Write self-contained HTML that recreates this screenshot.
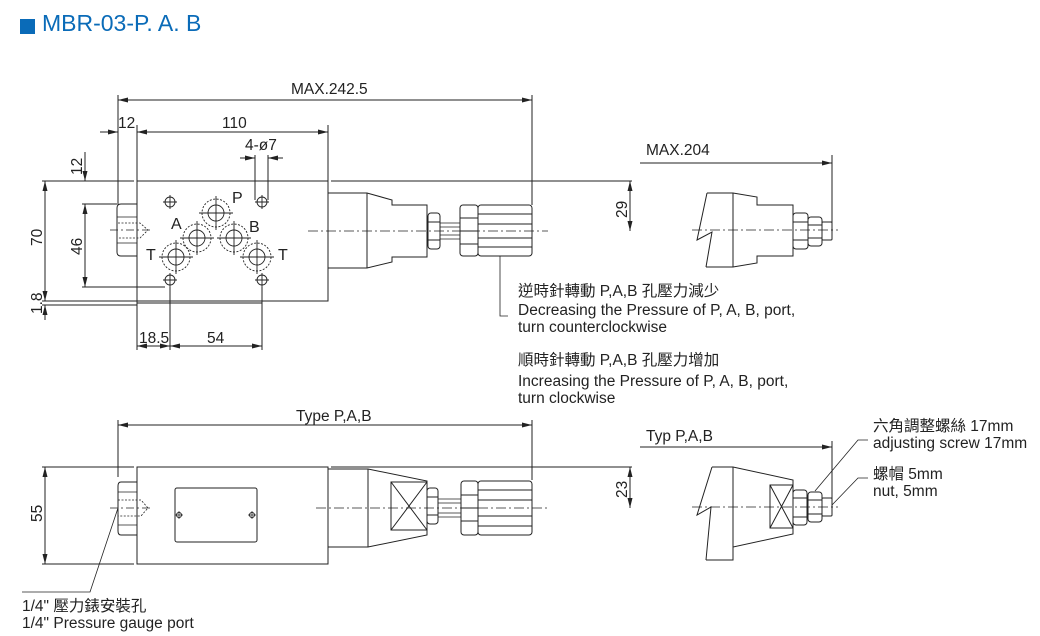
<!DOCTYPE html>
<html><head><meta charset="utf-8"><style>
html,body{margin:0;padding:0;background:#fff;}
svg{display:block;}
text{font-family:"Liberation Sans","Noto Sans CJK TC",sans-serif;fill:#222;}
</style></head><body>
<svg width="1040" height="636" viewBox="0 0 1040 636" xmlns="http://www.w3.org/2000/svg">
<defs>
<marker id="a" viewBox="0 0 10 6" refX="10" refY="3" markerWidth="10" markerHeight="6" orient="auto-start-reverse" markerUnits="userSpaceOnUse"><path d="M0,0.5 L10,3 L0,5.5z" fill="#222"/></marker>
</defs>
<rect x="20" y="19" width="15" height="15" fill="#0a6bb8"/>
<text x="42" y="31" font-size="23" style="fill:#0a6bb8">MBR-03-P. A. B</text>

<g stroke="#222" stroke-width="1" fill="none">
<rect x="137" y="181" width="191" height="120"/>
<line x1="137" y1="305" x2="42" y2="305"/>
<line x1="137" y1="301" x2="42" y2="301"/>
<path d="M137,303 H262"/>
<path d="M137,204 H121 Q117,204 117,208 V252 Q117,256 121,256 H137"/>
<path d="M117,217 H137 M117,243 H137" stroke-width="0.7"/>
<path d="M118,223 H140 L148,230 L140,238 H118" stroke-dasharray="2,1.5" stroke-width="0.8"/>
<path d="M328,193 H367 L392,200 V205 H427 V257 H392 V262 L367,268 H328"/>
<line x1="367" y1="193" x2="367" y2="268"/>
<rect x="428" y="213" width="12" height="36" rx="3"/>
<path d="M428,222 H440 M428,240 H440"/>
<path d="M440,223 H460 M440,227 H460 M440,235 H460 M440,239 H460" stroke-width="0.8"/>
<rect x="460" y="205" width="18" height="51" rx="3"/>
<path d="M460,218 H478 M460,231 H478 M460,244 H478"/>
<rect x="478" y="205" width="54" height="51" rx="3"/>
<path d="M478,214 H532 M478,224 H532 M478,238 H532 M478,247 H532"/>
<line x1="308" y1="231" x2="548" y2="231" stroke-dasharray="10,3,2,3" stroke-width="0.8"/>
<line x1="110" y1="230" x2="150" y2="230" stroke-dasharray="8,3,2,3" stroke-width="0.7"/>
<g stroke-width="0.9">
<circle cx="216" cy="213" r="14" stroke-dasharray="2,1.5"/><circle cx="216" cy="213" r="8"/>
<circle cx="197" cy="238" r="14" stroke-dasharray="2,1.5"/><circle cx="197" cy="238" r="8"/>
<circle cx="234" cy="238" r="14" stroke-dasharray="2,1.5"/><circle cx="234" cy="238" r="8"/>
<circle cx="176" cy="257" r="14" stroke-dasharray="2,1.5"/><circle cx="176" cy="257" r="8"/>
<circle cx="257" cy="257" r="14" stroke-dasharray="2,1.5"/><circle cx="257" cy="257" r="8"/>
<path d="M216,196 V230 M199,213 H233 M197,221 V255 M180,238 H214 M234,221 V255 M217,238 H251 M176,240 V274 M159,257 H193 M257,240 V274 M240,257 H274"/>
<circle cx="170" cy="202" r="5"/><circle cx="262" cy="202" r="5"/><circle cx="170" cy="280" r="5"/><circle cx="262" cy="280" r="5"/>
<path d="M163,202 H177 M170,195 V209 M255,202 H269 M262,195 V209 M163,280 H177 M170,273 V287 M255,280 H269 M262,273 V287"/>
</g>
<line x1="118" y1="95" x2="118" y2="205"/>
<line x1="532" y1="95" x2="532" y2="205"/>
<line x1="118" y1="100" x2="532" y2="100" marker-start="url(#a)" marker-end="url(#a)"/>
<line x1="137" y1="125" x2="137" y2="181"/>
<line x1="328" y1="125" x2="328" y2="181"/>
<line x1="137" y1="132" x2="328" y2="132" marker-start="url(#a)" marker-end="url(#a)"/>
<line x1="100" y1="132" x2="118" y2="132" marker-end="url(#a)"/>
<line x1="255" y1="155" x2="255" y2="200"/><line x1="268" y1="155" x2="268" y2="200"/>
<line x1="240" y1="158" x2="255" y2="158" marker-end="url(#a)"/>
<line x1="283" y1="158" x2="268" y2="158" marker-end="url(#a)"/>
<path d="M42,181 H134 M140,181 H325 M331,181 H632"/>
<path d="M82,204 H117 M82,287 H165"/>
<line x1="85" y1="152" x2="85" y2="181" marker-end="url(#a)"/>
<line x1="85" y1="204" x2="85" y2="287" marker-start="url(#a)" marker-end="url(#a)"/>
<line x1="45" y1="181" x2="45" y2="301" marker-start="url(#a)" marker-end="url(#a)"/>
<line x1="45" y1="320" x2="45" y2="305" marker-end="url(#a)"/>
<line x1="630" y1="181" x2="630" y2="231" marker-start="url(#a)" marker-end="url(#a)"/>
<line x1="170" y1="287" x2="170" y2="350"/><line x1="262" y1="287" x2="262" y2="350"/>
<line x1="137" y1="301" x2="137" y2="350"/>
<line x1="137" y1="346" x2="170" y2="346" marker-start="url(#a)" marker-end="url(#a)"/>
<line x1="170" y1="346" x2="262" y2="346" marker-start="url(#a)" marker-end="url(#a)"/>
<path d="M500,256 V316 H508" stroke-width="0.8"/>

<line x1="640" y1="163" x2="832" y2="163" marker-end="url(#a)"/>
<line x1="832" y1="155" x2="832" y2="234"/>
<path d="M707,193 H733 L757,197 V205 H793 V256 H757 V263 L733,267 H706"/>
<path d="M707,193 L697,240 L712,232 L706,267"/>
<line x1="733" y1="193" x2="733" y2="267"/>
<rect x="793" y="213" width="15" height="36" rx="3"/><path d="M793,222 H808 M793,240 H808"/>
<rect x="808" y="217" width="14" height="29" rx="3"/><path d="M808,225 H822 M808,238 H822"/>
<rect x="822" y="222" width="10" height="18" rx="1"/>
<line x1="692" y1="230" x2="838" y2="230" stroke-dasharray="10,3,2,3" stroke-width="0.8"/>

<rect x="137" y="467" width="191" height="97"/>
<path d="M137,482 H121 Q118,482 118,486 V531 Q118,535 121,535 H137"/>
<path d="M118,492 H137 M118,525 H137" stroke-width="0.7"/>
<path d="M118,500 H141 L148,508 L141,516 H118" stroke-dasharray="2,1.5" stroke-width="0.8"/>
<rect x="175" y="488" width="82" height="54" rx="2"/>
<circle cx="179" cy="515" r="2.5"/><circle cx="252" cy="515" r="2.5"/>
<path d="M175,515 H183 M179,511 V519 M248,515 H256 M252,511 V519" stroke-width="0.7"/>
<path d="M328,469 H368 L427,481 V535 L368,547 H328"/>
<line x1="368" y1="469" x2="368" y2="547"/>
<rect x="391" y="482" width="36" height="48"/>
<path d="M391,482 L427,530 M427,482 L391,530"/>
<rect x="427" y="488" width="11" height="36" rx="3"/><path d="M427,497 H438 M427,515 H438"/>
<path d="M438,499 H461 M438,503 H461 M438,513 H461 M438,517 H461" stroke-width="0.8"/>
<rect x="461" y="481" width="17" height="54" rx="3"/><path d="M461,495 H478 M461,508 H478 M461,521 H478"/>
<rect x="478" y="481" width="54" height="54" rx="3"/><path d="M478,490 H532 M478,500 H532 M478,516 H532 M478,526 H532"/>
<line x1="316" y1="508" x2="548" y2="508" stroke-dasharray="10,3,2,3" stroke-width="0.8"/>
<line x1="110" y1="508" x2="152" y2="508" stroke-dasharray="8,3,2,3" stroke-width="0.7"/>
<path d="M42,467 H134 M140,467 H325 M331,467 H632 M42,564 H134"/>
<line x1="45" y1="467" x2="45" y2="564" marker-start="url(#a)" marker-end="url(#a)"/>
<line x1="630" y1="467" x2="630" y2="508" marker-start="url(#a)" marker-end="url(#a)"/>
<line x1="118" y1="420" x2="118" y2="477"/>
<line x1="532" y1="420" x2="532" y2="480"/>
<line x1="118" y1="425" x2="532" y2="425" marker-start="url(#a)" marker-end="url(#a)"/>
<path d="M118,508 L90,592 H22" stroke-width="0.8"/>

<line x1="640" y1="447" x2="832" y2="447" marker-end="url(#a)"/>
<line x1="832" y1="441" x2="832" y2="505"/>
<path d="M712,467 H733 L793,480 V534 L733,547 V560 H706"/>
<path d="M712,467 L697,515 L711,507 L706,560"/>
<line x1="733" y1="467" x2="733" y2="560"/>
<rect x="770" y="485" width="23" height="43"/>
<path d="M770,485 L793,528 M793,485 L770,528"/>
<rect x="793" y="490" width="14" height="35" rx="3"/><path d="M793,498 H807 M793,517 H807"/>
<rect x="808" y="492" width="14" height="30" rx="3"/><path d="M808,500 H822 M808,514 H822"/>
<rect x="822" y="498" width="10" height="18" rx="1"/>
<line x1="692" y1="507" x2="838" y2="507" stroke-dasharray="10,3,2,3" stroke-width="0.8"/>
<path d="M815,491 L858,440 H868" stroke-width="0.8"/>
<path d="M832,505 L858,478 H868" stroke-width="0.8"/>
</g>

<g font-size="15.5">
<text x="291" y="94">MAX.242.5</text>
<text x="118" y="128">12</text>
<text x="222" y="128">110</text>
<text x="245" y="150">4-ø7</text>
<text x="232" y="203" font-size="16">P</text>
<text x="171" y="229" font-size="16">A</text>
<text x="249" y="232" font-size="16">B</text>
<text x="146" y="260" font-size="16">T</text>
<text x="278" y="260" font-size="16">T</text>
<text x="139" y="343">18.5</text>
<text x="207" y="343">54</text>
<text transform="translate(82,175) rotate(-90)">12</text>
<text transform="translate(82,255) rotate(-90)">46</text>
<text transform="translate(42,246) rotate(-90)">70</text>
<text transform="translate(42,314) rotate(-90)">1.8</text>
<text transform="translate(627,218) rotate(-90)">29</text>
<text x="646" y="155">MAX.204</text>
<text x="518" y="296">逆時針轉動 P,A,B 孔壓力減少</text>
<text x="518" y="315">Decreasing the Pressure of P, A, B, port,</text>
<text x="518" y="332">turn counterclockwise</text>
<text x="518" y="365">順時針轉動 P,A,B 孔壓力增加</text>
<text x="518" y="386">Increasing the Pressure of P, A, B, port,</text>
<text x="518" y="403">turn clockwise</text>
<text x="296" y="421">Type P,A,B</text>
<text x="646" y="441">Typ P,A,B</text>
<text transform="translate(42,522) rotate(-90)">55</text>
<text transform="translate(627,498) rotate(-90)">23</text>
<text x="873" y="431">六角調整螺絲 17mm</text>
<text x="873" y="448">adjusting screw 17mm</text>
<text x="873" y="479">螺帽 5mm</text>
<text x="873" y="496">nut, 5mm</text>
<text x="22" y="611">1/4" 壓力錶安裝孔</text>
<text x="22" y="628">1/4" Pressure gauge port</text>
</g>
</svg>
</body></html>
